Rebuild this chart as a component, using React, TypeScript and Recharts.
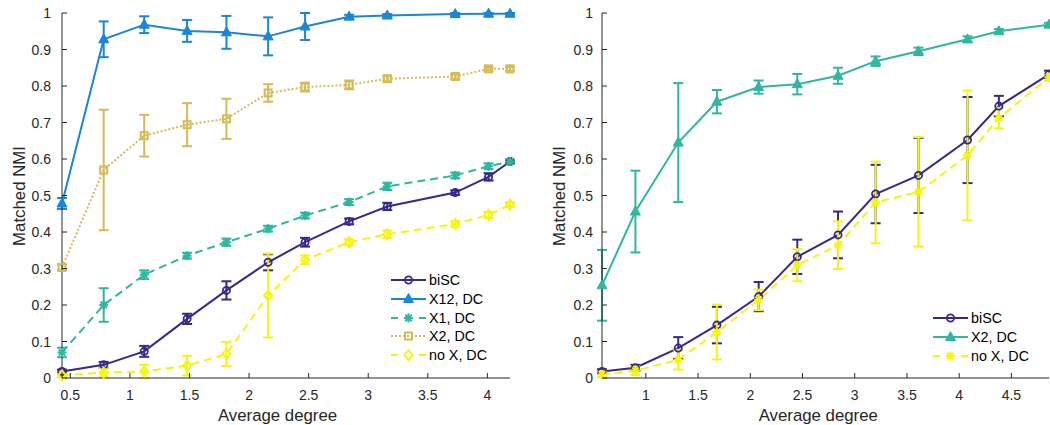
import React from 'react';
import { ComposedChart, Line, XAxis, YAxis, ErrorBar, Legend } from 'recharts';

// left panel
const leftDegree = [0.43, 0.78, 1.12, 1.48, 1.81, 2.16, 2.47, 2.84, 3.16, 3.73, 4.01, 4.19];
const leftBiSC = [0.018, 0.036, 0.073, 0.162, 0.24, 0.317, 0.372, 0.429, 0.47, 0.508, 0.551, 0.593];
const leftBiSCErr = [0.005, 0.008, 0.015, 0.014, 0.025, 0.022, 0.012, 0.008, 0.01, 0.006, 0.01, 0.005];
const leftX12 = [0.478, 0.928, 0.968, 0.951, 0.947, 0.936, 0.963, 0.99, 0.993, 0.997, 0.998, 0.998];
const leftX12Err = [0.015, 0.049, 0.023, 0.03, 0.045, 0.052, 0.037, 0.005, 0.004, 0.003, 0.002, 0.002];
const leftX1 = [0.07, 0.2, 0.283, 0.335, 0.372, 0.409, 0.445, 0.482, 0.525, 0.555, 0.58, 0.593];
const leftX1Err = [0.013, 0.046, 0.012, 0.008, 0.01, 0.008, 0.008, 0.008, 0.01, 0.008, 0.008, 0.005];
const leftX2 = [0.303, 0.57, 0.664, 0.694, 0.71, 0.781, 0.797, 0.803, 0.82, 0.826, 0.847, 0.847];
const leftX2Err = [0.008, 0.165, 0.057, 0.059, 0.055, 0.024, 0.012, 0.012, 0.007, 0.006, 0.005, 0.005];
const leftNoX = [0.007, 0.015, 0.018, 0.034, 0.066, 0.226, 0.324, 0.372, 0.394, 0.422, 0.447, 0.475];
const leftNoXErr = [0.004, 0.012, 0.018, 0.027, 0.033, 0.115, 0.012, 0.008, 0.01, 0.008, 0.008, 0.006];

// right panel
const rightDegree = [0.58, 0.9, 1.31, 1.68, 2.08, 2.45, 2.84, 3.2, 3.61, 4.08, 4.38, 4.86];
const rightBiSC = [0.018, 0.028, 0.082, 0.145, 0.223, 0.332, 0.392, 0.504, 0.555, 0.652, 0.745, 0.832];
const rightBiSCErr = [0.006, 0.008, 0.03, 0.05, 0.04, 0.047, 0.064, 0.08, 0.103, 0.118, 0.028, 0.01];
const rightX2 = [0.254, 0.456, 0.645, 0.757, 0.797, 0.805, 0.828, 0.868, 0.895, 0.928, 0.95, 0.968];
const rightX2Err = [0.097, 0.112, 0.163, 0.032, 0.018, 0.028, 0.022, 0.013, 0.01, 0.008, 0.006, 0.005];
const rightNoX = [0.01, 0.02, 0.05, 0.126, 0.214, 0.309, 0.364, 0.481, 0.51, 0.61, 0.712, 0.824];
const rightNoXErr = [0.008, 0.012, 0.027, 0.075, 0.028, 0.044, 0.065, 0.112, 0.15, 0.178, 0.028, 0.01];

const yTicks = [0, 0.1, 0.2, 0.3, 0.4, 0.5, 0.6, 0.7, 0.8, 0.9, 1];
const leftXTicks = [0.5, 1, 1.5, 2, 2.5, 3, 3.5, 4];
const rightXTicks = [1, 1.5, 2, 2.5, 3, 3.5, 4, 4.5];

const leftData = leftDegree.map((x, i) => ({
  x,
  biSC: leftBiSC[i], biSCErr: leftBiSCErr[i],
  x12: leftX12[i], x12Err: leftX12Err[i],
  x1: leftX1[i], x1Err: leftX1Err[i],
  x2: leftX2[i], x2Err: leftX2Err[i],
  noX: leftNoX[i], noXErr: leftNoXErr[i],
}));

const rightData = rightDegree.map((x, i) => ({
  x,
  biSC: rightBiSC[i], biSCErr: rightBiSCErr[i],
  x2: rightX2[i], x2Err: rightX2Err[i],
  noX: rightNoX[i], noXErr: rightNoXErr[i],
}));

const FONT = '"Liberation Sans", Arial, Helvetica, sans-serif';
const AXIS = '#262626';
const NAVY = '#352a87';
const BLUE = '#1a86d8';
const TEAL = '#2fb79f';
const GOLD = '#d5ba55';
const YELLOW = '#f5f510';

const DASH = '8 5';
const DOT = '2 2';

type Shape = 'circle' | 'triangle' | 'asterisk' | 'square' | 'diamond';

const Marker = ({ shape, color, cx, cy }: { shape: Shape; color: string; cx: number; cy: number }) => {
  if (cx == null || cy == null) return null;
  switch (shape) {
    case 'circle':
      return <circle cx={cx} cy={cy} r={3.6} fill="none" stroke={color} strokeWidth={1.8} />;
    case 'triangle':
      return (
        <polygon
          points={`${cx},${cy - 5.5} ${cx - 5},${cy + 3.5} ${cx + 5},${cy + 3.5}`}
          fill={color}
          stroke={color}
          strokeWidth={1}
        />
      );
    case 'square':
      return <rect x={cx - 3.5} y={cy - 3.5} width={7} height={7} fill="none" stroke={color} strokeWidth={2} />;
    case 'diamond':
      return (
        <polygon
          points={`${cx},${cy - 5} ${cx + 4},${cy} ${cx},${cy + 5} ${cx - 4},${cy}`}
          fill="none"
          stroke={color}
          strokeWidth={2}
        />
      );
    case 'asterisk': {
      const r = 4.5;
      const d = 3.2;
      return (
        <g stroke={color} strokeWidth={2}>
          <line x1={cx} y1={cy - r} x2={cx} y2={cy + r} />
          <line x1={cx - r} y1={cy} x2={cx + r} y2={cy} />
          <line x1={cx - d} y1={cy - d} x2={cx + d} y2={cy + d} />
          <line x1={cx - d} y1={cy + d} x2={cx + d} y2={cy - d} />
        </g>
      );
    }
  }
  return null;
};

const makeDot = (shape: Shape, color: string) => (p: any) => (
  <Marker key={`m-${p.index}`} shape={shape} color={color} cx={p.cx} cy={p.cy} />
);

const fmt = (v: number) => String(Number(v.toFixed(1)));

const YTick = (p: any) => (
  <g>
    <line x1={p.x} y1={p.y} x2={p.x + 5} y2={p.y} stroke={AXIS} />
    <text x={p.x - p.gap} y={p.y} dy={5} textAnchor="end" fontSize={14} fontFamily={FONT} fill={AXIS}>
      {fmt(p.payload.value)}
    </text>
  </g>
);

const XTick = (p: any) => (
  <g>
    <line x1={p.x} y1={p.y} x2={p.x} y2={p.y - 5} stroke={AXIS} />
    <text x={p.x} y={p.y + 22} textAnchor="middle" fontSize={14} fontFamily={FONT} fill={AXIS}>
      {fmt(p.payload.value)}
    </text>
  </g>
);

type LegendItem = { name: string; color: string; shape: Shape; dash?: string };

const leftLegend: LegendItem[] = [
  { name: 'biSC', color: NAVY, shape: 'circle' },
  { name: 'X12, DC', color: BLUE, shape: 'triangle' },
  { name: 'X1, DC', color: TEAL, shape: 'asterisk', dash: '7 21' },
  { name: 'X2, DC', color: GOLD, shape: 'square', dash: DOT },
  { name: 'no X, DC', color: YELLOW, shape: 'diamond', dash: '7 21' },
];

const rightLegend: LegendItem[] = [
  { name: 'biSC', color: NAVY, shape: 'circle' },
  { name: 'X2, DC', color: TEAL, shape: 'triangle' },
  { name: 'no X, DC', color: YELLOW, shape: 'asterisk', dash: '7 21' },
];

const LegendBox = ({ items }: { items: LegendItem[] }) => (
  <div style={{ fontFamily: FONT, fontSize: 14.3, color: '#000' }}>
    {items.map((it) => (
      <div key={it.name} style={{ display: 'flex', alignItems: 'center', height: 18.7 }}>
        <svg width={38} height={18} style={{ display: 'block' }}>
          <line x1={1} y1={9} x2={36} y2={9} stroke={it.color} strokeWidth={2} strokeDasharray={it.dash} />
          <Marker shape={it.shape} color={it.color} cx={18.5} cy={9} />
        </svg>
        <span style={{ marginLeft: 1, whiteSpace: 'nowrap' }}>{it.name}</span>
      </div>
    ))}
  </div>
);

const series = (key: string, color: string, shape: Shape, dash?: string) => (
  <Line
    key={key}
    type="linear"
    dataKey={key}
    stroke={color}
    strokeWidth={2}
    strokeDasharray={dash}
    dot={makeDot(shape, color)}
    activeDot={false}
    legendType="none"
    isAnimationActive={false}
  >
    <ErrorBar dataKey={`${key}Err`} width={5} stroke={color} strokeWidth={2} direction="y" isAnimationActive={false} />
  </Line>
);

const App: React.FC = () => {
  return (
    <div style={{ position: 'absolute', left: 0, top: 0, width: 1050, height: 425, background: '#fff', fontFamily: FONT }}>
      <div style={{ position: 'absolute', left: 0, top: 0 }}>
        <ComposedChart width={525} height={425} data={leftData} margin={{ top: 13, right: 15, bottom: 0, left: 0 }}>
          <XAxis
            dataKey="x"
            type="number"
            domain={[0.43, 4.19]}
            ticks={leftXTicks}
            interval={0}
            height={47}
            tickSize={0}
            tickMargin={0}
            tickLine={false}
            axisLine={{ stroke: AXIS }}
            tick={(p: any) => <XTick {...p} />}
          />
          <YAxis
            type="number"
            domain={[0, 1]}
            ticks={yTicks}
            interval={0}
            width={62}
            tickSize={0}
            tickMargin={0}
            tickLine={false}
            axisLine={{ stroke: AXIS }}
            tick={(p: any) => <YTick {...p} gap={11} />}
          />
          {series('biSC', NAVY, 'circle')}
          {series('x12', BLUE, 'triangle')}
          {series('x1', TEAL, 'asterisk', DASH)}
          {series('x2', GOLD, 'square', DOT)}
          {series('noX', YELLOW, 'diamond', DASH)}
          <Legend
            layout="vertical"
            align="center"
            verticalAlign="middle"
            wrapperStyle={{ left: 390, top: 271, width: 120 }}
            content={() => <LegendBox items={leftLegend} />}
          />
        </ComposedChart>
      </div>
      <div style={{ position: 'absolute', left: 525, top: 0 }}>
        <ComposedChart width={525} height={425} data={rightData} margin={{ top: 13, right: 1, bottom: 0, left: 0 }}>
          <XAxis
            dataKey="x"
            type="number"
            domain={[0.58, 4.86]}
            ticks={rightXTicks}
            interval={0}
            height={47}
            tickSize={0}
            tickMargin={0}
            tickLine={false}
            axisLine={{ stroke: AXIS }}
            tick={(p: any) => <XTick {...p} />}
          />
          <YAxis
            type="number"
            domain={[0, 1]}
            ticks={yTicks}
            interval={0}
            width={77}
            tickSize={0}
            tickMargin={0}
            tickLine={false}
            axisLine={{ stroke: AXIS }}
            tick={(p: any) => <YTick {...p} gap={9} />}
          />
          {series('biSC', NAVY, 'circle')}
          {series('x2', TEAL, 'triangle')}
          {series('noX', YELLOW, 'asterisk', DASH)}
          <Legend
            layout="vertical"
            align="center"
            verticalAlign="middle"
            wrapperStyle={{ left: 407, top: 309, width: 115 }}
            content={() => <LegendBox items={rightLegend} />}
          />
        </ComposedChart>
      </div>
      <svg width={1050} height={425} style={{ position: 'absolute', left: 0, top: 0, pointerEvents: 'none' }}>
        <g fontFamily={FONT} fontSize={16.8} fill={AXIS}>
          <text x={277.5} y={421} textAnchor="middle">Average degree</text>
          <text x={818.3} y={421} textAnchor="middle">Average degree</text>
          <text x={25} y={196} textAnchor="middle" transform="rotate(-90 25 196)">Matched NMI</text>
          <text x={565} y={196} textAnchor="middle" transform="rotate(-90 565 196)">Matched NMI</text>
        </g>
      </svg>
    </div>
  );
};

export default App;
